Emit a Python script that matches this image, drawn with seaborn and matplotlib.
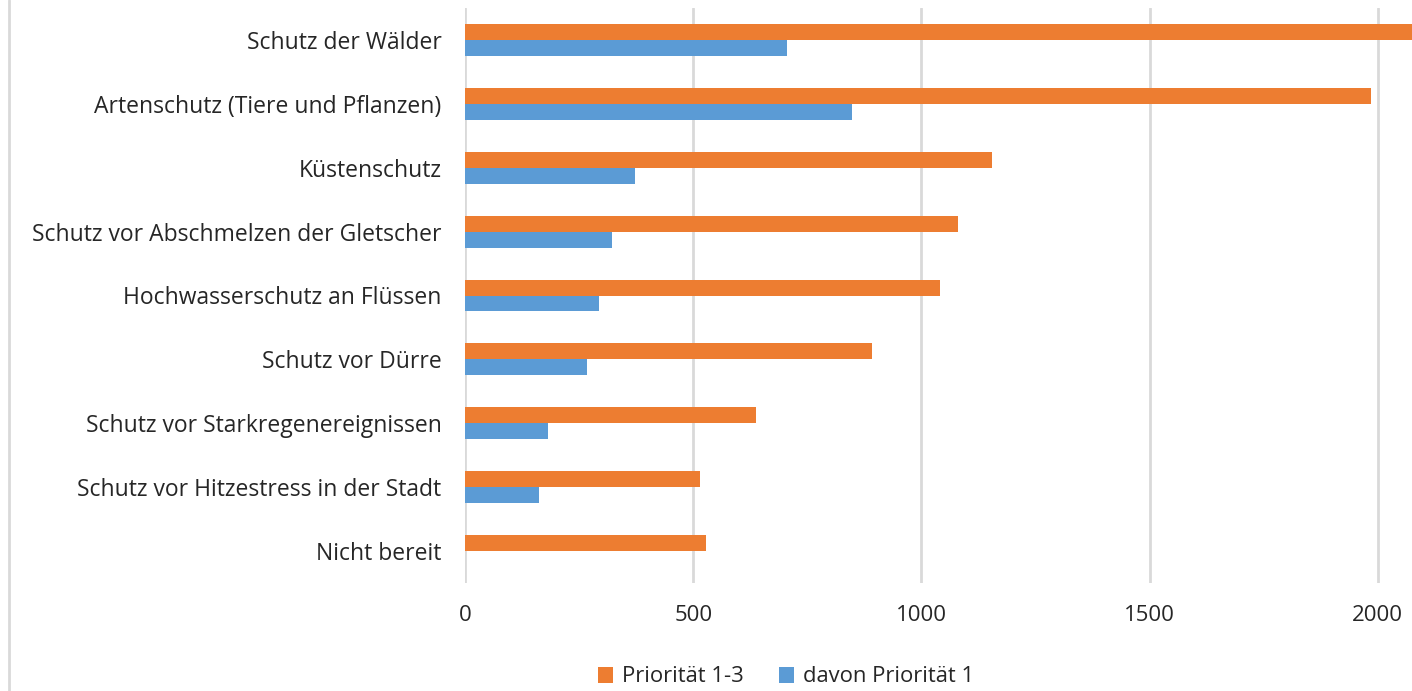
import numpy as np
import pandas as pd
import seaborn as sns
import matplotlib as mpl
import matplotlib.pyplot as plt
from matplotlib.lines import Line2D

categories = [
    "Schutz der Wälder",
    "Artenschutz (Tiere und Pflanzen)",
    "Küstenschutz",
    "Schutz vor Abschmelzen der Gletscher",
    "Hochwasserschutz an Flüssen",
    "Schutz vor Dürre",
    "Schutz vor Starkregenereignissen",
    "Schutz vor Hitzestress in der Stadt",
    "Nicht bereit",
]
prio_1_3 = [2075, 1985, 1154, 1080, 1040, 892, 637, 515, 528]
prio_1 = [705, 848, 372, 322, 294, 267, 182, 162, 0]
series = ["Priorität 1-3", "davon Priorität 1"]
colors = ["#ED7D31", "#5B9BD5"]
xticks = [0, 500, 1000, 1500, 2000]


def main():
    sns.set_theme(style="white")
    mpl.rcParams['font.family'] = ['Open Sans', 'DejaVu Sans']

    df = pd.DataFrame({
        "Kategorie": categories * 2,
        "Wert": prio_1_3 + prio_1,
        "Serie": [series[0]] * len(categories) + [series[1]] * len(categories),
    })

    fig = plt.figure(figsize=(14.12, 6.91), dpi=100)
    ax = fig.add_axes([465 / 1412, 1 - 583 / 691, 1 - 465 / 1412, 575 / 691])

    sns.barplot(data=df, y="Kategorie", x="Wert", hue="Serie", hue_order=series,
                palette=colors, orient="h", width=0.5, saturation=1,
                errorbar=None, ax=ax, zorder=3, linewidth=0)

    ax.set_xlim(0, 2075)
    ax.set_ylim(8.5, -0.5)
    ax.set_xticks(xticks)
    ax.xaxis.grid(True, color="#D9D9D9", linewidth=2, zorder=0)
    ax.set_xlabel("")
    ax.set_ylabel("")
    ax.tick_params(axis='y', length=0, pad=17, labelsize=16.5, labelcolor="#262626")
    ax.tick_params(axis='x', length=0, pad=16, labelsize=16, labelcolor="#262626")
    for spine in ax.spines.values():
        spine.set_visible(False)

    ax.legend(loc="center", bbox_to_anchor=(786 / 1412, 1 - 677 / 691),
              bbox_transform=fig.transFigure, ncol=2, frameon=False,
              fontsize=15.8, handlelength=0.7, handleheight=0.7,
              columnspacing=1.6, handletextpad=0.4, labelcolor="#262626")

    fig.add_artist(Line2D([9 / 1412, 9 / 1412], [0, 1], color="#D9D9D9",
                          linewidth=2, transform=fig.transFigure))

    fig.savefig("out.png", dpi=100)


if __name__ == "__main__":
    main()
